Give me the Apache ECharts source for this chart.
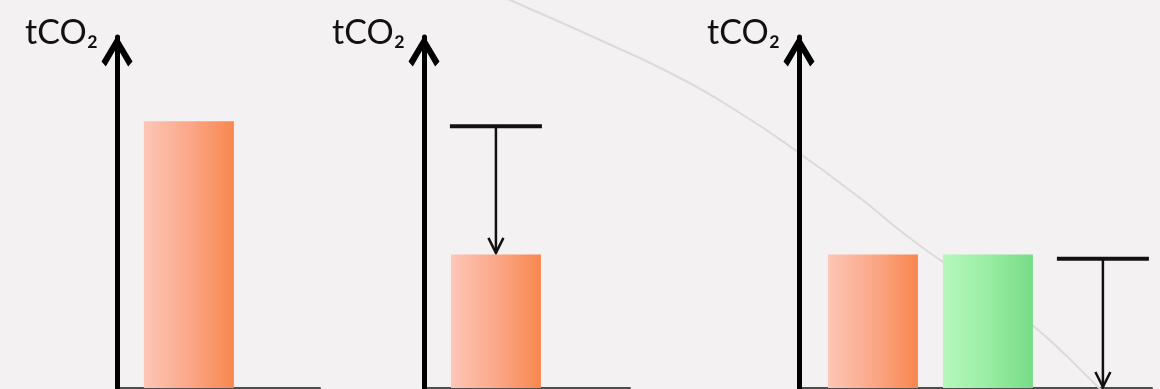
<!DOCTYPE html>
<html>
<head>
<meta charset="utf-8">
<script src="https://cdn.jsdelivr.net/npm/echarts@6/dist/echarts.min.js"></script>
<style>
html,body{margin:0;padding:0;background:#f3f1f2;}
#c{width:1160px;height:389px;}
</style>
</head>
<body>
<div id="c"></div>
<script>
// ---- data ----
var yAxisName = 'tCO\u2082';
var panel1Bars = [76];               // before
var panel2Bars = [38];               // after reduction
var panel2Bracket = [[0, 74.6, 38.2]]; // [slot, from, to]
var panel3Orange = [38];
var panel3Green = [38];
var panel3Bracket = [[2, 36.8, 0]];
var arcX = [465, 510, 600, 680, 740, 795, 860, 907, 943, 1000, 1037, 1093, 1115];
var arcY = [-20, 0, 40, 78, 113, 150, 198, 236, 262, 302, 329, 382, 405];

var chart = echarts.init(document.getElementById('c'), null, {renderer: 'canvas'});

var orangeGrad = new echarts.graphic.LinearGradient(0, 0, 1, 0, [
  {offset: 0, color: '#fdc6b7'}, {offset: 0.5, color: '#fba888'}, {offset: 1, color: '#f8874e'}]);
var greenGrad = new echarts.graphic.LinearGradient(0, 0, 1, 0, [
  {offset: 0, color: '#b6f8bc'}, {offset: 0.5, color: '#9aeda4'}, {offset: 1, color: '#76dc86'}]);

var chevron = 'path://M50,0 L100,84 L86,100 L50,38 L14,100 L0,84 Z';

function mkX(idx, min, max) {
  return {
    gridIndex: idx, type: 'value', min: min, max: max,
    axisLine: {show: true, onZero: false, lineStyle: {color: '#4d4d4d', width: 2}},
    axisTick: {show: false}, axisLabel: {show: false}, splitLine: {show: false}
  };
}
function mkY(idx) {
  return {
    gridIndex: idx, type: 'value', min: 0, max: 100, z: 5,
    name: yAxisName,
    nameLocation: 'end', nameGap: 4,
    nameTextStyle: {
      align: 'right', verticalAlign: 'middle', padding: [0, 19, 0, 0],
      fontFamily: 'Lato', fontSize: 34, color: '#111', lineHeight: 36
    },
    axisLine: {show: true, onZero: false, symbol: ['none', chevron], symbolSize: [31, 33], symbolOffset: [0, -14],
      lineStyle: {color: '#000', width: 5}},
    axisTick: {show: false}, axisLabel: {show: false}, splitLine: {show: false}
  };
}

function bracketRender(params, api) {
  var top = api.coord([api.value(0), api.value(1)]);
  var bot = api.coord([api.value(0), api.value(2)]);
  var hw = 46;
  return {
    type: 'group',
    children: [
      {type: 'line', shape: {x1: top[0] - hw, y1: top[1], x2: top[0] + hw, y2: top[1]}, style: {stroke: '#111', lineWidth: 4}},
      {type: 'line', shape: {x1: top[0], y1: top[1], x2: bot[0], y2: bot[1] - 1}, style: {stroke: '#111', lineWidth: 2.5}},
      {type: 'polyline', shape: {points: [[bot[0] - 7.5, bot[1] - 16], [bot[0], bot[1] - 1], [bot[0] + 7.5, bot[1] - 16]]},
        style: {stroke: '#111', lineWidth: 2.5, fill: null}}
    ]
  };
}

function pairs(arr, start) { return arr.map(function (v, i) { return [i + (start || 0), v]; }); }

var option = {
  backgroundColor: '#f3f1f2',
  animation: false,
  tooltip: {show: false},
  grid: [
    {left: 117, top: 37, width: 203, bottom: 1, outerBoundsMode: 'none'},
    {left: 424, top: 37, width: 206, bottom: 1, outerBoundsMode: 'none'},
    {left: 799, top: 37, width: 353, bottom: 1, outerBoundsMode: 'none'},
    {left: 0, top: 0, right: 0, bottom: 0, outerBoundsMode: 'none'}
  ],
  xAxis: [mkX(0, -0.625, 1.14), mkX(1, -0.625, 1.165), mkX(2, -0.643, 2.427),
    {gridIndex: 3, type: 'value', min: 0, max: 1160, show: false}],
  yAxis: [mkY(0), mkY(1), mkY(2),
    {gridIndex: 3, type: 'value', min: 0, max: 389, inverse: true, show: false}],
  series: [
    {type: 'line', xAxisIndex: 3, yAxisIndex: 3, z: 1, smooth: true, symbol: 'none',
      lineStyle: {color: '#dcdadb', width: 2},
      data: arcX.map(function (x, i) { return [x, arcY[i]]; })},
    {type: 'bar', xAxisIndex: 0, yAxisIndex: 0, barWidth: 90, itemStyle: {color: orangeGrad}, data: pairs(panel1Bars)},
    {type: 'bar', xAxisIndex: 1, yAxisIndex: 1, barWidth: 90, itemStyle: {color: orangeGrad}, data: pairs(panel2Bars)},
    {type: 'custom', xAxisIndex: 1, yAxisIndex: 1, renderItem: bracketRender, data: panel2Bracket},
    {type: 'bar', xAxisIndex: 2, yAxisIndex: 2, barWidth: 90, barGap: '-100%', itemStyle: {color: orangeGrad}, data: pairs(panel3Orange)},
    {type: 'bar', xAxisIndex: 2, yAxisIndex: 2, barWidth: 90, barGap: '-100%', itemStyle: {color: greenGrad},
      data: pairs(panel3Green, panel3Orange.length)},
    {type: 'custom', xAxisIndex: 2, yAxisIndex: 2, renderItem: bracketRender, data: panel3Bracket}
  ]
};
chart.setOption(option);
</script>
</body>
</html>
